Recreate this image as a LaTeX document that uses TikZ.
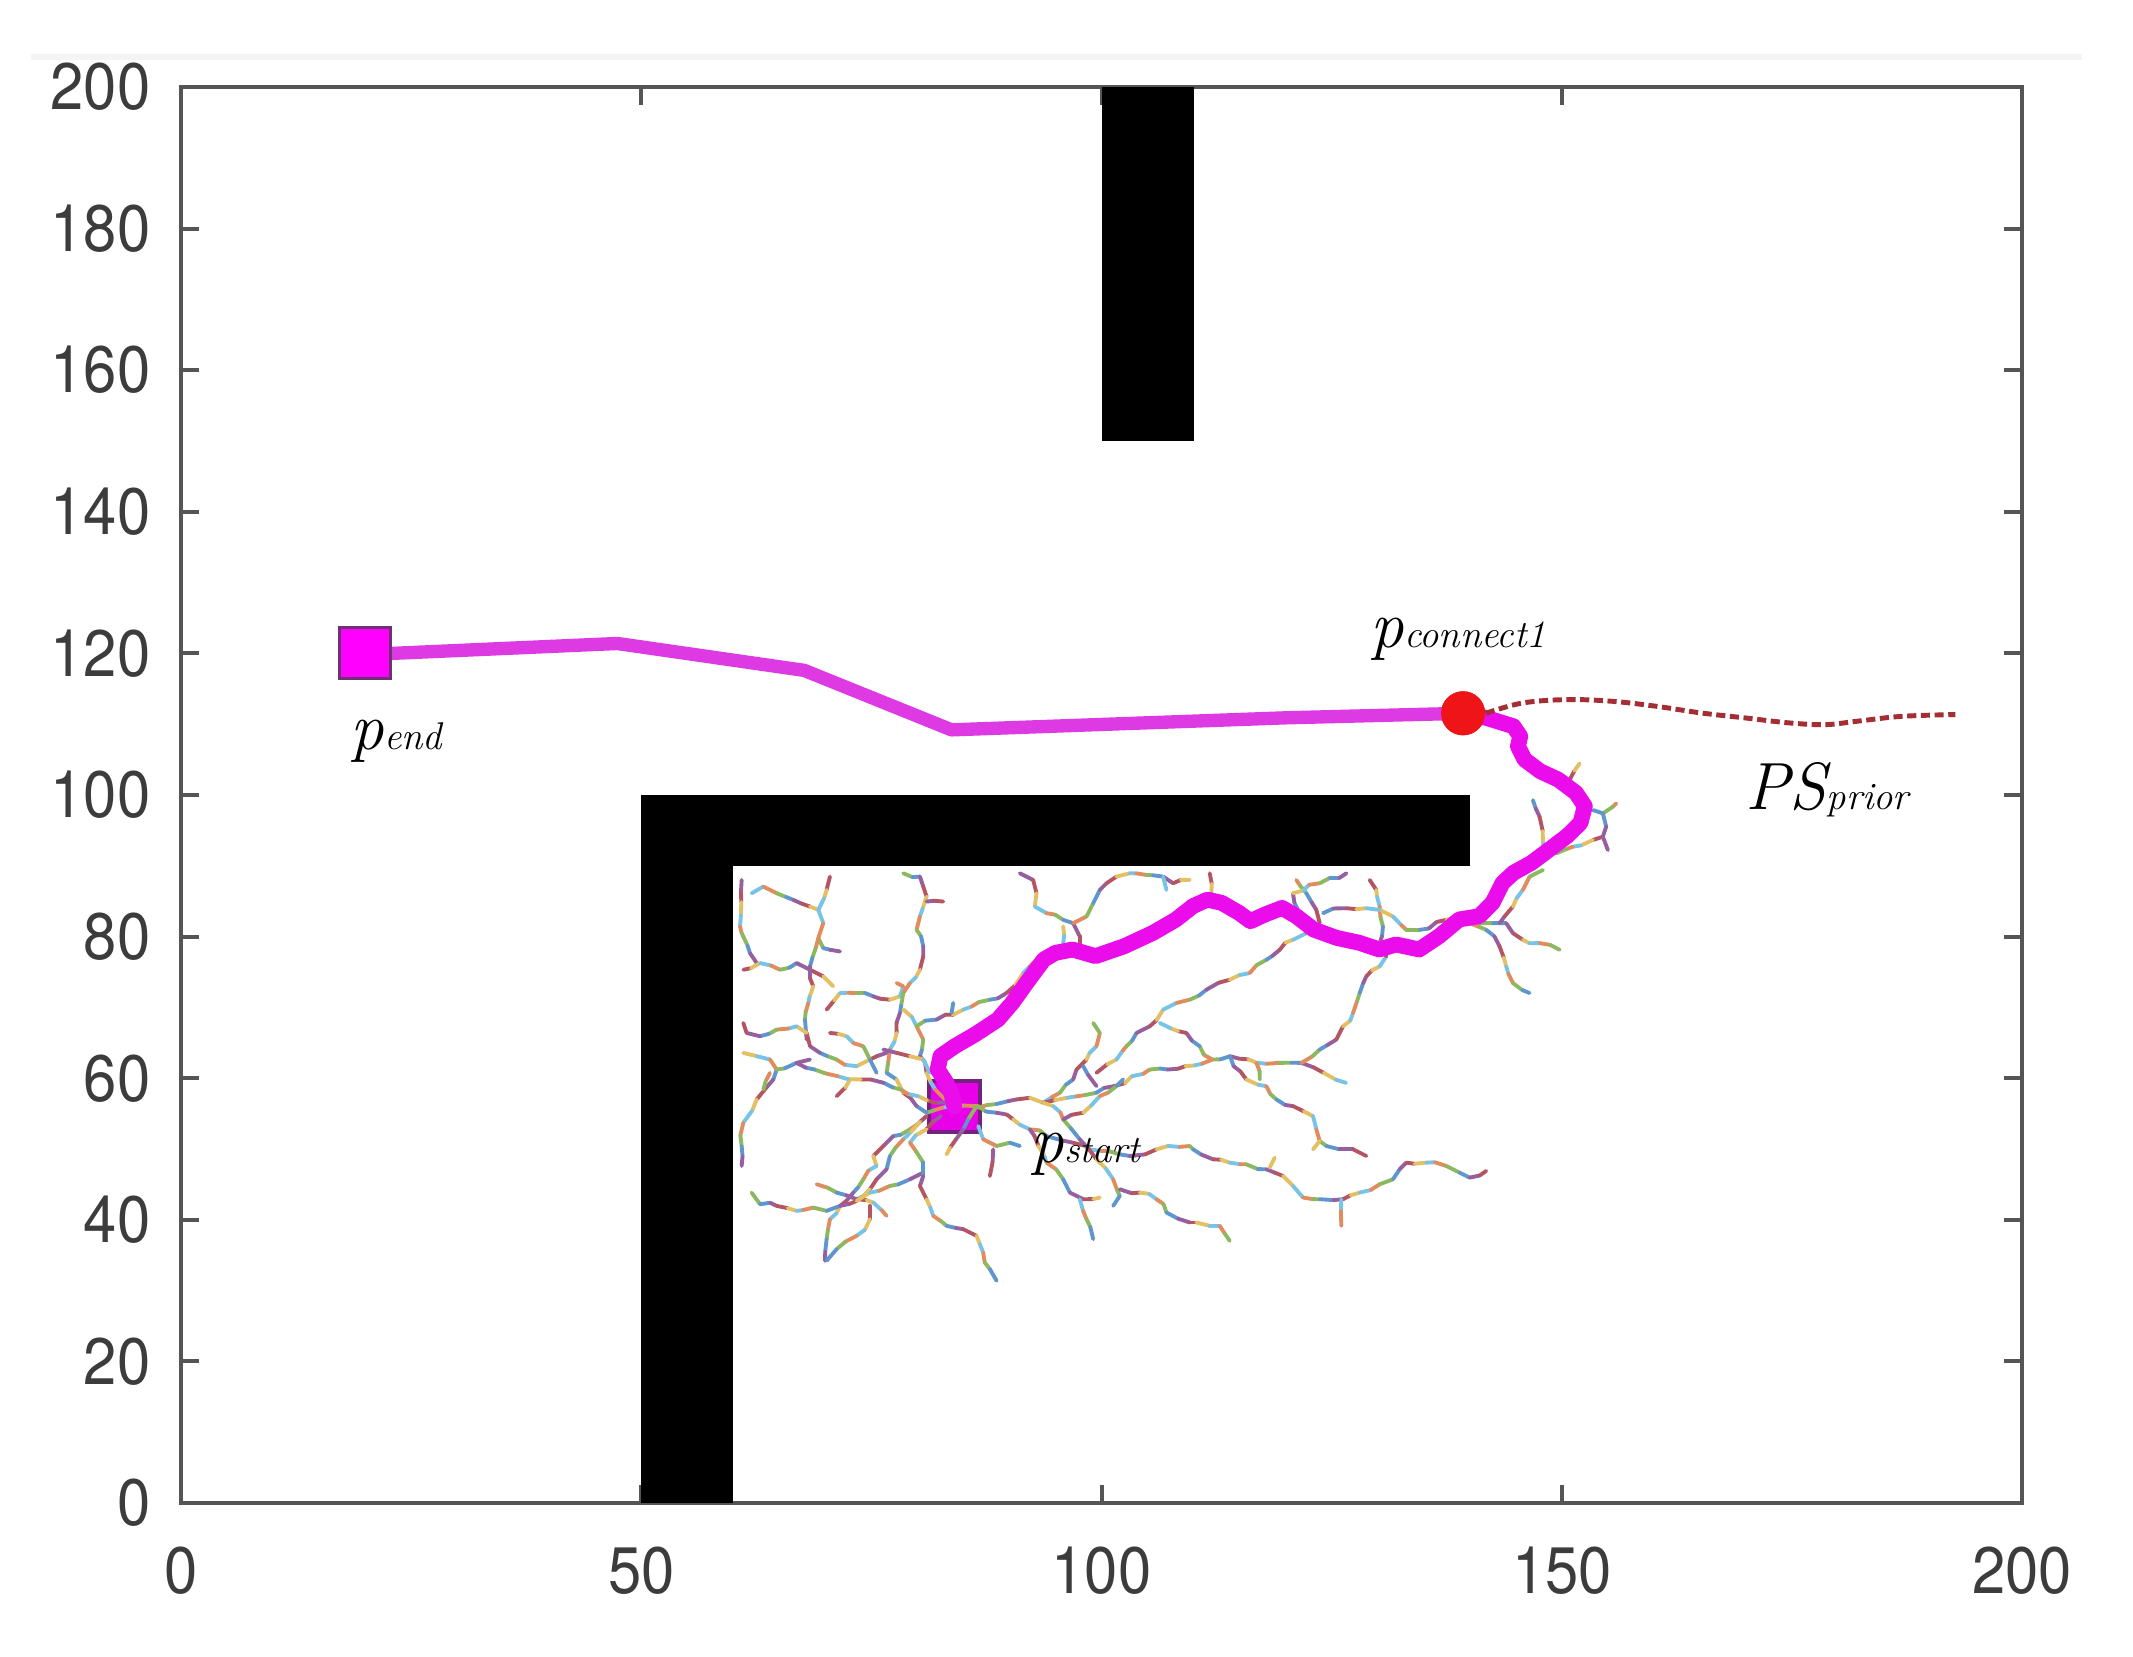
\documentclass[tikz,border=0pt]{standalone}
\usepackage{fontspec}
\usepackage{graphicx}
\newfontfamily\axisfont{TeX Gyre Heros}
\definecolor{axcol}{RGB}{85,85,85}
\definecolor{labcol}{RGB}{60,60,60}
\definecolor{endmag}{RGB}{222,58,228}
\definecolor{startmag}{RGB}{235,12,235}
\definecolor{sqfill}{RGB}{255,0,255}
\definecolor{sqdraw}{RGB}{110,50,115}
\definecolor{stfill}{RGB}{232,0,232}
\definecolor{stdraw}{RGB}{115,35,125}
\definecolor{connred}{RGB}{238,20,24}
\definecolor{priorcol}{RGB}{165,45,52}
\definecolor{rc0}{RGB}{95,150,205}
\definecolor{rc1}{RGB}{225,140,95}
\definecolor{rc2}{RGB}{228,192,100}
\definecolor{rc3}{RGB}{150,95,160}
\definecolor{rc4}{RGB}{140,185,95}
\definecolor{rc5}{RGB}{120,195,230}
\definecolor{rc6}{RGB}{180,85,100}
\tikzset{
  axisline/.style={draw=axcol, line width=1.1pt},
  ticklab/.style={inner sep=0pt, text=labcol, font=\axisfont\fontsize{17}{17}\selectfont},
  obst/.style={fill=black},
  rrtline/.style={line width=1.1pt, line cap=round},
  endpath/.style={draw=endmag, line width=3.8pt, line join=round, line cap=round},
  startpath/.style={draw=startmag, line width=4.5pt, line join=round, line cap=round},
  endsq/.style={rectangle, minimum size=0.51cm, inner sep=0pt, fill=sqfill, draw=sqdraw, line width=0.8pt},
  startsq/.style={rectangle, minimum size=0.51cm, inner sep=0pt, fill=stfill, draw=stdraw, line width=1.2pt},
  connpt/.style={circle, minimum size=0.44cm, inner sep=0pt, fill=connred},
  priorpath/.style={draw=priorcol, line width=1.4pt, dash pattern=on 2.6pt off 1.3pt},
  lab/.style={inner sep=0pt, text=black},
}
\newcommand\plab[2]{{\fontsize{19}{19}\selectfont\itshape #1}{\fontsize{11}{11}\selectfont\itshape #2}}
\newcounter{rrtc}
\newcommand\rrtbranch[1]{%
  \gdef\rrtfirst{1}%
  \foreach \ax/\ay in {#1}{%
    \ifnum\rrtfirst=1
      \xdef\rrtx{\ax}\xdef\rrty{\ay}%
      \gdef\rrtfirst{0}%
    \else
      \pgfmathsetmacro\rrtlen{veclen((\ax-\rrtx)*0.00574,(\ay-\rrty)*0.003333)}%
      \pgfmathtruncatemacro\rrtn{max(1,round(\rrtlen/0.11))}%
      \xdef\rrtsx{\rrtx}\xdef\rrtsy{\rrty}%
      \foreach \k in {1,...,\rrtn}{%
        \ifnum\k=\rrtn
          \xdef\rrtnx{\ax}\xdef\rrtny{\ay}%
        \else
          \pgfmathsetmacro\tmpx{\rrtsx+(\ax-\rrtsx)*\k/\rrtn+4*rand}%
          \pgfmathsetmacro\tmpy{\rrtsy+(\ay-\rrtsy)*\k/\rrtn+7*rand}%
          \xdef\rrtnx{\tmpx}\xdef\rrtny{\tmpy}%
        \fi
        \stepcounter{rrtc}%
        \pgfmathtruncatemacro\rrtci{mod(\the\value{rrtc}*3,7)}%
        \draw[rrtline, rc\rrtci] (\rrtx,\rrty) -- (\rrtnx,\rrtny);%
        \xdef\rrtx{\rrtnx}\xdef\rrty{\rrtny}%
      }%
    \fi
  }}
\begin{document}
\begin{tikzpicture}
\useasboundingbox (0,0) rectangle (21.33,16.56);
\fill[white] (0,0) rectangle (21.33,16.56);
\pgfmathsetseed{7}
% faint line at the top
\draw[gray!9, line width=1.6pt] (0.31,15.99) -- (20.82,15.99);

% ---------- data coordinates ----------
\begin{scope}[shift={(1.81,1.53)}, x=0.09205cm, y=0.0708cm]
  \draw[axisline] (0,0) rectangle (200,200);
  \foreach \x in {50,100,150}{
    \draw[axisline] (\x,0) -- ++(0cm,0.18cm);
    \draw[axisline] (\x,200) -- ++(0cm,-0.18cm);
  }
  \foreach \y in {20,40,...,180}{
    \draw[axisline] (0,\y) -- ++(0.18cm,0cm);
    \draw[axisline] (200,\y) -- ++(-0.18cm,0cm);
  }
  \foreach \x in {0,50,100,150,200}{
    \node[ticklab] (xl\x) at ([yshift=-0.68cm]\x,0) {\scalebox{1}[1.1]{\x}};
  }
  \foreach \y in {0,20,...,200}{
    \node[ticklab, anchor=east] (yl\y) at ([xshift=-0.30cm]0,\y) {\scalebox{1}[1.1]{\y}};
  }
  % obstacles
  \fill[obst] (50,0) rectangle (60,100);
  \fill[obst] (50,90) rectangle (140,100);
  \fill[obst] (100,150) rectangle (110,200);
  % markers
  \node[startsq] (pstart) at (84,56) {};
  \node[connpt] (pconn) at (139.27,111.54) {};
\end{scope}

% ---------- RRT tree ----------
\begin{scope}[shift={(7.00,8.06)}, x=0.00574cm, y=-0.003333cm]
\rrtbranch{72.6/90, 69.7/230, 72.6/250, 87.1/310, 98.8/340}
\rrtbranch{75.5/360, 104.6/340, 139.4/360, 168.4/340, 191.7/360, 214.9/380, 232.3/410}
\rrtbranch{90/130, 110.4/110, 133.6/130, 162.6/150, 191.7/170, 206.2/180, 214.9/220, 206.2/265, 214.9/295, 226.5/300, 244/305}
\rrtbranch{226.5/80, 220.7/120, 206.2/180}
\rrtbranch{206.2/265, 191.7/350, 197.5/410, 188.8/460, 183/510, 185.9/570}
\rrtbranch{220.7/480, 244/430, 273/430, 302/440, 331/450, 348.5/440, 354.3/410, 342.7/400}
\rrtbranch{354.3/70, 383.3/80, 394.9/140, 383.3/200, 377.5/240, 389.1/290, 383.3/360, 365.9/400, 354.3/430, 348.5/490, 342.7/550, 331/600, 325.2/670, 342.7/690}
\rrtbranch{394.9/155, 424/155}
\rrtbranch{354.3/480, 377.5/530, 389.1/570, 383.3/620, 394.9/670, 410/720, 430/755}
\rrtbranch{377.5/530, 412.3/510, 458.8/480, 505.2/450, 534.3/430, 563.3/370, 586.5/330, 604/310}
\rrtbranch{441.4/460, 438.5/490}
\rrtbranch{557.5/70, 580.7/90, 586.5/130, 583.6/170, 604/190, 633/210, 650.4/220, 662/260, 662/290}
\rrtbranch{633/230, 633/280}
\rrtbranch{650.4/220, 673.7/200, 685.3/160, 696.9/120, 708.5/100, 725.9/80, 749.1/70, 778.2/75, 807.2/80, 824.6/100, 853.7/90}
\rrtbranch{807.2/80, 813/120}
\rrtbranch{485/775, 551.7/750, 574.9/745, 598.2/760, 627.2/730, 650.4/690, 656.2/660, 673.7/630, 691.1/590, 696.9/550, 685.3/520}
\rrtbranch{667.9/650, 691.1/710}
\rrtbranch{691.1/670, 725.9/630, 743.3/590, 760.8/550, 784/530, 807.2/480, 830.4/460, 853.7/450, 882.7/420, 923.3/390, 958.1/370, 987.2/330, 1010.4/300, 1033.6/270, 1056.9/250, 1045/190, 1033.6/130}
\rrtbranch{598.2/760, 640/745, 690.6/730, 721.7/710, 752.8/680, 783.9/660, 815/660, 846.1/650, 892.8/630, 923.9/620, 970.6/640, 1009.5/640, 1048.3/640, 1087.2/670, 1126.1/700}
\rrtbranch{1048.3/640, 1080.1/600, 1109.1/570, 1120.7/530, 1138.2/490, 1149.8/430, 1161.4/380, 1184.6/350, 1196.2/320}
\rrtbranch{892.8/630, 871/590, 847.8/550, 801.4/520}
\rrtbranch{969.8/640, 975.6/690}
\rrtbranch{923.9/620, 930/650, 952.3/690, 987.2/710, 1004.6/750, 1033.6/770, 1068.5/800, 1074.3/840, 1080.1/875, 1091.7/890, 1114.9/900, 1138.2/900, 1161.4/920}
\rrtbranch{1080.1/875, 1068.5/900}
\rrtbranch{442/770, 485/770, 516.9/790, 545.9/810, 574.9/840, 604/860, 650/880, 700/905, 749.1/920, 795.6/900, 853.7/890, 859.4/900, 894.3/930, 923.3/940, 952.3/945, 987.2/960, 1016.2/980, 1033.6/1010, 1051.1/1045, 1080.1/1050, 1120.7/1050, 1149.8/1030, 1184.6/1005, 1207.9/990, 1219.5/960, 1231.1/940, 1265.9/940, 1300.8/950, 1324/970, 1341.4/985, 1370.4/965}
\rrtbranch{993/955, 1001.7/925}
\rrtbranch{1117.8/1050, 1117.8/1130}
\rrtbranch{482/770, 458.8/840, 429.8/915}
\rrtbranch{485/830, 493.6/870, 516.9/890, 540.1/880, 557.5/890}
\rrtbranch{511/900, 505.2/980}
\rrtbranch{598.2/760, 615.6/770, 633/810, 662/870, 691.1/930, 720.1/990, 731.7/1040, 720.1/1070}
\rrtbranch{633/810, 667.9/790, 696.9/740, 737.5/690}
\rrtbranch{574.9/840, 590/890, 604/940, 633/990, 644.6/1030, 667.9/1050, 696.9/1045}
\rrtbranch{662/1050, 673.7/1110, 685.3/1170}
\rrtbranch{731.7/1020, 766.6/1030, 795.6/1050, 813/1090, 853.7/1120, 865.2/1120, 888.5/1130, 905.9/1130, 923.3/1175}
\rrtbranch{133.6/660, 127.8/690, 98.8/750, 75.5/820, 72.6/890, 72.6/950}
\rrtbranch{238.1/740, 261.3/690}
\rrtbranch{442/770, 394.9/790, 377.5/770, 354.3/730, 342.7/690}
\rrtbranch{394.9/800, 365.9/840, 336.9/860, 319.4/890, 302/920, 307.8/950, 284.6/990, 267.2/1030, 244/1070, 226.5/1110, 220.7/1170, 217.8/1235}
\rrtbranch{394.9/800, 354.3/870, 331/920, 325.2/960, 307.8/990, 296.2/1020, 284.6/1040, 273/1050}
\rrtbranch{203.3/1005, 238.1/1030, 273/1050, 302/1060, 325.2/1100}
\rrtbranch{90/1030, 104.6/1065, 133.6/1070, 168.4/1085, 197.5/1075, 220.7/1085, 244/1070, 273/1055, 296.2/1030, 331/1010, 365.9/990, 389.1/970}
\rrtbranch{296.2/1070, 296.2/1110, 273/1160, 238.1/1200, 220.7/1235}
\rrtbranch{420/800, 365.9/880, 389.1/940, 389.1/980, 383.3/1010, 394.9/1050, 406.5/1100, 429.8/1130, 458.8/1140, 482/1160, 493.6/1210, 505.2/1260, 516.9/1295}
\rrtbranch{325.2/610, 296.2/630, 273/650, 238.1/630, 209.1/610, 191.7/590, 185.9/550, 168.4/530, 133.6/540, 104.6/560, 81.3/550, 75.5/520}
\rrtbranch{75.5/610, 98.8/620, 122/630, 133.6/660, 168.4/640, 191.7/630}
\rrtbranch{226.5/550, 255.5/560, 284.6/590, 296.2/630, 307.8/670}
\rrtbranch{319.4/600, 342.7/610, 365.9/620, 389.1/630, 400.7/670}
\rrtbranch{122/670, 110.4/720}
\rrtbranch{442/770, 410/760, 380/740, 350/720, 320/700, 280/690, 240/680, 200/660, 168.4/640}
\rrtbranch{888.5/70, 891.4/130, 888.5/150}
\rrtbranch{1039.4/90, 1056.9/130, 1074.3/180, 1080.1/220}
\rrtbranch{1033.6/130, 1080.1/100, 1126.6/70}
\rrtbranch{1167.2/90, 1178.8/120, 1184.6/170, 1190.4/230, 1184.6/280, 1196.2/320}
\rrtbranch{1184.6/180, 1207.9/200, 1231.1/240, 1254.3/240, 1300.8/210, 1324/200, 1358.8/220, 1405.3/220, 1416.9/250, 1434.3/270, 1463.4/280, 1498.2/300}
\rrtbranch{1085.9/190, 1126.6/175, 1161.4/175, 1184.6/180}
\rrtbranch{1341.4/220, 1370.4/240, 1393.7/290, 1405.3/350, 1416.9/400, 1445.9/430}
\rrtbranch{1393.7/220, 1416.9/170, 1434.3/120, 1445.9/80, 1469.2/60}
\rrtbranch{1451.7/-150, 1463.4/-100, 1469.2/-20, 1475/10}
\rrtbranch{1596.9/-140, 1591.1/-130, 1573.7/-110, 1579.5/-70, 1573.7/-40, 1556.3/-30, 1521.5/-10, 1492.4/10}
\rrtbranch{1573.7/-110, 1556.3/-120}
\rrtbranch{1573.7/-40, 1582.4/0}
\rrtbranch{1515.6/-210, 1533.1/-260}
\end{scope}

% ---------- paths (shrunk-pixel coordinates) ----------
\begin{scope}[shift={(0,16.56)}, x=0.013603cm, y=-0.013603cm]
  \draw[startpath] (pstart.center) -- (700,805) -- (696.1,796.4) -- (689.7,786.6) -- (691.8,776.8) -- (702.4,769.5) -- (717.2,760.9) -- (734.0,749.9) -- (744.6,737.6) -- (755.1,722.9) -- (767.8,705.8) -- (776.2,700.9) -- (788.9,698.4) -- (805.8,703.3) -- (826.9,696.0) -- (848.0,686.2) -- (864.9,676.4) -- (877.5,666.5) -- (888.1,661.7) -- (898.6,664.1) -- (911.3,671.4) -- (919.7,677.6) -- (930.3,672.7) -- (943.0,667.8) -- (953.5,673.9) -- (966.2,683.7) -- (983.0,689.8) -- (999.9,693.5) -- (1014.5,698.4) -- (1026.8,694.7) -- (1043.9,698.4) -- (1058.6,688.6) -- (1073.3,676.3) -- (1088.0,673.9) -- (1097.8,664.1) -- (1105.2,649.4) -- (1113.2,642.0) -- (1126.4,634.7) -- (1139.5,624.9) -- (1152.6,615.0) -- (1162.5,605.3) -- (1165.7,593.0) -- (1159.2,583.2) -- (1146.1,573.4) -- (1132.9,567.3) -- (1121.4,558.7) -- (1116.5,548.9) -- (1118.2,541.6) -- (1113.2,534.2) -- (1093.5,528.1) -- (pconn.center);
  \draw[priorpath] plot[smooth, tension=0.6] coordinates {(pconn.east) (1119.8,517.1) (1152.6,514.6) (1185.4,515.8) (1218.3,519.5) (1251.1,524.4) (1283.9,528.1) (1316.7,531.8) (1343.0,533.0) (1366.0,530.5) (1398.8,526.9) (1438.2,525.6)};
\end{scope}

\begin{scope}[shift={(1.81,1.53)}, x=0.09205cm, y=0.0708cm]
  \node[endsq] (pend) at (20,120) {};
  \draw[endpath] (pend.east) -- (47.4,121.4) -- (67.7,117.6) -- (83.7,109.2) -- (120,110.9) -- (pconn.center);
  \node[endsq] at (pend.center) {};
  \node[connpt] at (pconn.center) {};
\end{scope}

% ---------- labels ----------
\node[lab, anchor=base west] (lend) at (3.50,9.06) {\plab{p}{end}};
\node[lab, anchor=base west] (lconn) at (13.70,10.08) {\plab{p}{connect1}};
\node[lab, anchor=base west] (lprior) at (17.45,8.46) {\plab{PS}{prior}};
\node[lab, anchor=base west] (lstart) at (10.30,4.94) {\plab{p}{start}};
\end{tikzpicture}
\end{document}
